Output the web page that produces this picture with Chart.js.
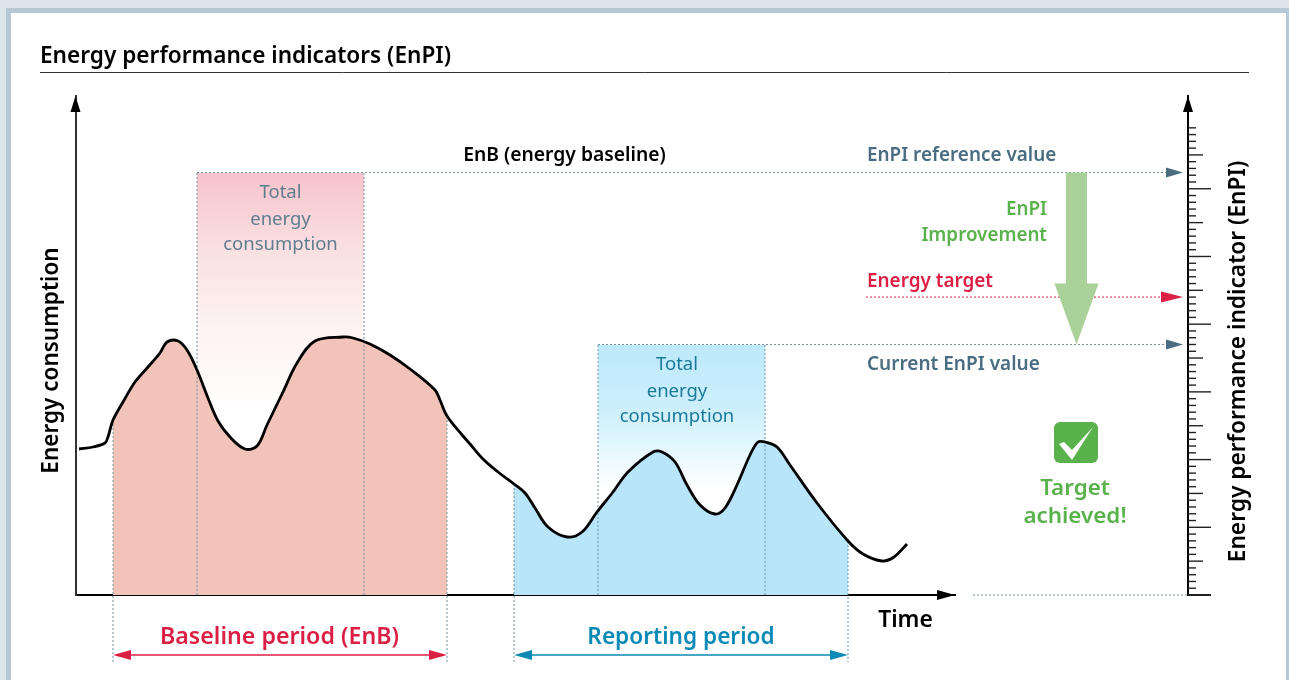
<!DOCTYPE html>
<html>
<head>
<meta charset="utf-8">
<title>Energy performance indicators (EnPI)</title>
<script src="https://cdn.jsdelivr.net/npm/chart.js@4/dist/chart.umd.min.js"></script>
<style>
  html, body { margin: 0; padding: 0; background: #dce5eb; overflow: hidden; }
  #frame { position: absolute; left: 6px; top: 8px; width: 1283px; height: 672px; background: #fff;
           border: 5px solid #b5c8d3; border-right-width: 3px; border-bottom: 0; box-sizing: border-box; }
  #wrap { position: absolute; left: 0; top: 0; width: 1289px; height: 680px; }
</style>
</head>
<body>
<div id="frame"></div>
<div id="wrap"><canvas id="chart" width="1289" height="680"></canvas></div>
<script>
// energy curve (time units, consumption units)
const curveTime = [3, 17, 29, 32, 37, 47, 59, 72, 84, 91, 102, 111, 121, 132, 142, 154, 169, 181, 191, 207, 221, 239, 267, 277, 294, 314, 334, 359, 364, 371, 387, 394, 407, 422, 438, 449, 459, 472, 491, 506, 521, 537, 552, 577, 586, 599, 611, 624, 639, 649, 661, 674, 682, 689, 701, 714, 741, 772, 787, 806, 818, 831];
const curveEnergy = [146, 148, 152, 158, 175, 193, 213, 228, 242, 253, 254, 245, 225, 197, 174, 158, 146, 149, 170, 203, 232, 254, 258, 257, 251, 240, 226, 205, 195, 179, 159, 151, 136, 123, 111, 102, 87, 68, 58, 63, 83, 103, 123, 143, 143, 133, 110, 90, 81, 87, 110, 140, 153, 153, 148, 130, 92, 54, 41, 34, 38, 51];

const timeBaseline = [37, 371];
const timeReporting = [438, 772];
const timeBaselineTotal = [121, 288];
const timeReportingTotal = [522, 689];
const timeRightAxis = 1112;
const timeDotsEnd = 1090;
const timeTargetStart = 790;
const timeImprovement = 1000.5;
const timeZeroDots = 897;
const periodDrop = -60;
const dropperDrop = -67;

// EnPI axis readings
const enpiReference = 62.4;
const enpiTarget = 44;
const enpiCurrent = 37;
const enpiTicks = 69;
const enpiMax = 73.7;

const energyReference = 422;
const energyCurrent = 250;

const xy = (xs, ys) => xs.map((x, i) => ({ x, y: ys[i] }));

const curve = xy(curveTime, curveEnergy);
const curveAt = x => {
  const i = curve.findIndex(p => p.x >= x);
  if (curve[i].x === x) return curve[i];
  const a = curve[i - 1], b = curve[i];
  return { x, y: a.y + (b.y - a.y) * (x - a.x) / (b.x - a.x) };
};
const fillPart = r => curve.filter(p => p.x >= r[0] && p.x <= r[1]);

function verticalGradient(stops, bottomPx) {
  return ctx => {
    const { ctx: c, chartArea } = ctx.chart;
    if (!chartArea) return stops[0][1];
    const g = c.createLinearGradient(0, bottomPx[0], 0, bottomPx[1]);
    stops.forEach(s => g.addColorStop(s[0], s[1]));
    return g;
  };
}

const dots = (data, color, yAxisID) => ({
  data, yAxisID: yAxisID || 'y', borderColor: color, borderWidth: 1, borderDash: [2, 2],
  pointRadius: 0, fill: false, tension: 0, clip: false, order: 1
});
const area = (data, color, tension) => ({
  data, yAxisID: 'y', borderWidth: 0, borderColor: 'transparent', backgroundColor: color,
  pointRadius: 0, fill: 'origin', tension: tension || 0, clip: false, order: 3
});

const dotGrey = '#6f93a8';
const slate = '#4a6d82';
const red = '#dc1f44';
const blue = '#0b8ab5';
const green = '#5ab24c';
const sans = '"Noto Sans", sans-serif';

const vLine = (x, y0) => dots([{ x, y: y0 }, { x, y: dropperDrop }], dotGrey);
const vLineBlock = (x, y0) => dots([{ x, y: y0 }, { x, y: 0 }], dotGrey);

const overlay = {
  id: 'overlay',
  afterDraw(chart) {
    const c = chart.ctx, { x, y, y2 } = chart.scales;
    const px = v => x.getPixelForValue(v);
    const py = v => y.getPixelForValue(v);
    const pe = v => y2.getPixelForValue(v);
    const ax = px(timeRightAxis);

    const text = (s, tx, ty, font, color, align) => {
      c.font = font; c.fillStyle = color; c.textAlign = align || 'center'; c.textBaseline = 'middle';
      c.fillText(s, tx, ty);
    };
    const tri = (pts, color) => {
      c.fillStyle = color; c.beginPath();
      pts.forEach((p, i) => i ? c.lineTo(p[0], p[1]) : c.moveTo(p[0], p[1]));
      c.closePath(); c.fill();
    };
    const head = (tipX, tipY, dirX, dirY, len, half, color) => tri([
      [tipX, tipY],
      [tipX - dirX * len + dirY * half, tipY - dirY * len + dirX * half],
      [tipX - dirX * len - dirY * half, tipY - dirY * len - dirX * half]
    ], color);

    c.save();
    // title
    text('Energy performance indicators (EnPI)', 40, 56.5, '600 22.6px ' + sans, '#000', 'left');
    c.strokeStyle = '#333'; c.lineWidth = 1; c.beginPath(); c.moveTo(40, 72.5); c.lineTo(1249, 72.5); c.stroke();

    // axis heads
    head(px(0) - 0.5, 96, 0, -1, 16, 5, '#000');
    head(955, py(0), 1, 0, 18, 5, '#000');
    head(ax, 96, 0, -1, 16, 5, '#000');

    // EnPI scale ticks: short, 5s and 10s
    c.strokeStyle = '#222';
    for (let v = 0; v <= enpiTicks; v++) {
      const len = v % 10 === 0 ? 23 : v % 5 === 0 ? 15 : 8;
      const ty = pe(v);
      c.lineWidth = v === 0 ? 2 : 1.4;
      c.beginPath(); c.moveTo(ax, ty); c.lineTo(ax + len, ty); c.stroke();
    }

    // level arrows
    head(ax - 5, pe(enpiReference), 1, 0, 17, 5, slate);
    head(ax - 5, pe(enpiCurrent), 1, 0, 17, 5, slate);
    head(ax - 5, pe(enpiTarget), 1, 0, 22, 5.5, red);

    // improvement arrow
    const im = px(timeImprovement), top = pe(enpiReference), tip = pe(enpiCurrent);
    const neck = top + 111;
    tri([[im - 10.5, top], [im + 10.5, top], [im + 10.5, neck], [im + 22, neck], [im, tip], [im - 22, neck], [im - 10.5, neck]], '#abd19a');

    // period arrows
    [[timeBaseline, red], [timeReporting, blue]].forEach(([r, col]) => {
      const a = px(r[0]), b = px(r[1]), ay = py(periodDrop);
      c.strokeStyle = col; c.lineWidth = 1.5;
      c.beginPath(); c.moveTo(a + 10, ay); c.lineTo(b - 10, ay); c.stroke();
      head(a, ay, -1, 0, 18, 5, col);
      head(b, ay, 1, 0, 18, 5, col);
    });

    // labels
    text('EnB (energy baseline)', 564.5, 155.5, '600 19.3px ' + sans, '#000');
    text('EnPI reference value', 867, 155.5, '600 18.9px ' + sans, slate, 'left');
    text('EnPI', 1047, 209.5, '600 18.8px ' + sans, green, 'right');
    text('Improvement', 1047, 235.5, '600 18.8px ' + sans, green, 'right');
    text('Energy target', 867, 281.5, '600 18.9px ' + sans, red, 'left');
    text('Current EnPI value', 867, 364.5, '600 19px ' + sans, slate, 'left');

    ['Total', 'energy', 'consumption'].forEach((s, i) => {
      text(s, 280.5, [192.5, 219.5, 244.5][i], '18.5px ' + sans, '#5f7d8e');
      text(s, 677, [364.5, 391.5, 416.5][i], '18.5px ' + sans, '#1a7a9a');
    });

    text('Baseline period (EnB)', 279.5, 637.5, '600 23.2px ' + sans, red);
    text('Reporting period', 681, 637.5, '600 22.6px ' + sans, blue);
    text('Time', 905.5, 620.5, '600 22.8px ' + sans, '#000');
    text('Target', 1075, 488.5, '600 22.4px ' + sans, green);
    text('achieved!', 1075, 516.5, '600 22.4px ' + sans, green);

    // check box
    c.fillStyle = green; c.beginPath(); c.roundRect(1054, 422, 44, 41, 6); c.fill();
    tri([[1093, 427], [1072, 460], [1059, 444], [1064, 442], [1072, 450]], '#fff');

    // rotated axis titles
    c.save(); c.translate(51.5, 360.5); c.rotate(-Math.PI / 2);
    text('Energy consumption', 0, 0, '600 22.5px ' + sans, '#000'); c.restore();
    c.save(); c.translate(1239, 361.5); c.rotate(-Math.PI / 2);
    text('Energy performance indicator (EnPI)', 0, 0, '600 22.7px ' + sans, '#000'); c.restore();
    c.restore();
  }
};

new Chart(document.getElementById('chart'), {
  type: 'line',
  plugins: [overlay],
  data: {
    datasets: [
      { data: curve, yAxisID: 'y', borderColor: '#000', borderWidth: 2.8, pointRadius: 0, tension: 0.35, fill: false, clip: false, order: 0 },
      // period fills
      area([curveAt(timeBaseline[0]), ...fillPart(timeBaseline), curveAt(timeBaseline[1])], '#f2c4b9', 0.35),
      area([curveAt(timeReporting[0]), ...fillPart(timeReporting), curveAt(timeReporting[1])], '#b8e5fa', 0.35),
      // total consumption blocks
      { ...area(xy(timeBaselineTotal, [energyReference, energyReference]), verticalGradient([[0, '#f6c3cc'], [0.3, '#f9dfe1'], [0.62, '#fdf3f2'], [1, '#ffffff']], [173, 420])), order: 4 },
      { ...area(xy(timeReportingTotal, [energyCurrent, energyCurrent]), verticalGradient([[0, '#bce9fb'], [0.45, '#cdeffc'], [0.75, '#e8f8fe'], [1, '#ffffff']], [345, 490])), order: 4 },
      // dotted guides
      vLine(timeBaseline[0], curveAt(timeBaseline[0]).y), vLine(timeBaseline[1], curveAt(timeBaseline[1]).y),
      vLine(timeReporting[0], curveAt(timeReporting[0]).y), vLine(timeReporting[1], curveAt(timeReporting[1]).y),
      vLineBlock(timeBaselineTotal[0], energyReference), vLineBlock(timeBaselineTotal[1], energyReference),
      vLineBlock(timeReportingTotal[0], energyCurrent), vLineBlock(timeReportingTotal[1], energyCurrent),
      dots(xy([timeBaselineTotal[0], timeDotsEnd], [enpiReference, enpiReference]), dotGrey, 'y2'),
      dots(xy([timeReportingTotal[0], timeDotsEnd], [enpiCurrent, enpiCurrent]), dotGrey, 'y2'),
      dots(xy([timeTargetStart, timeDotsEnd], [enpiTarget, enpiTarget]), red, 'y2'),
      dots(xy([timeZeroDots, timeRightAxis], [0, 0]), dotGrey, 'y2')
    ]
  },
  options: {
    responsive: false,
    animation: false,
    events: [],
    layout: { padding: { left: 76, right: 334, top: 96, bottom: 85 } },
    plugins: { legend: { display: false }, title: { display: false }, tooltip: { enabled: false } },
    scales: {
      x: {
        type: 'linear', min: 0, max: 879,
        ticks: { display: false },
        grid: { display: false, drawTicks: false },
        border: { display: true, color: '#000', width: 2 }
      },
      y: {
        type: 'linear', min: 0, max: 499,
        ticks: { display: false },
        grid: { display: false, drawTicks: false },
        border: { display: true, color: '#333', width: 2 }
      },
      y2: {
        type: 'linear', min: 0, max: enpiMax,
        position: { x: timeRightAxis },
        ticks: { display: false },
        grid: { display: false, drawTicks: false },
        border: { display: true, color: '#000', width: 2 }
      }
    }
  }
});
</script>
</body>
</html>
